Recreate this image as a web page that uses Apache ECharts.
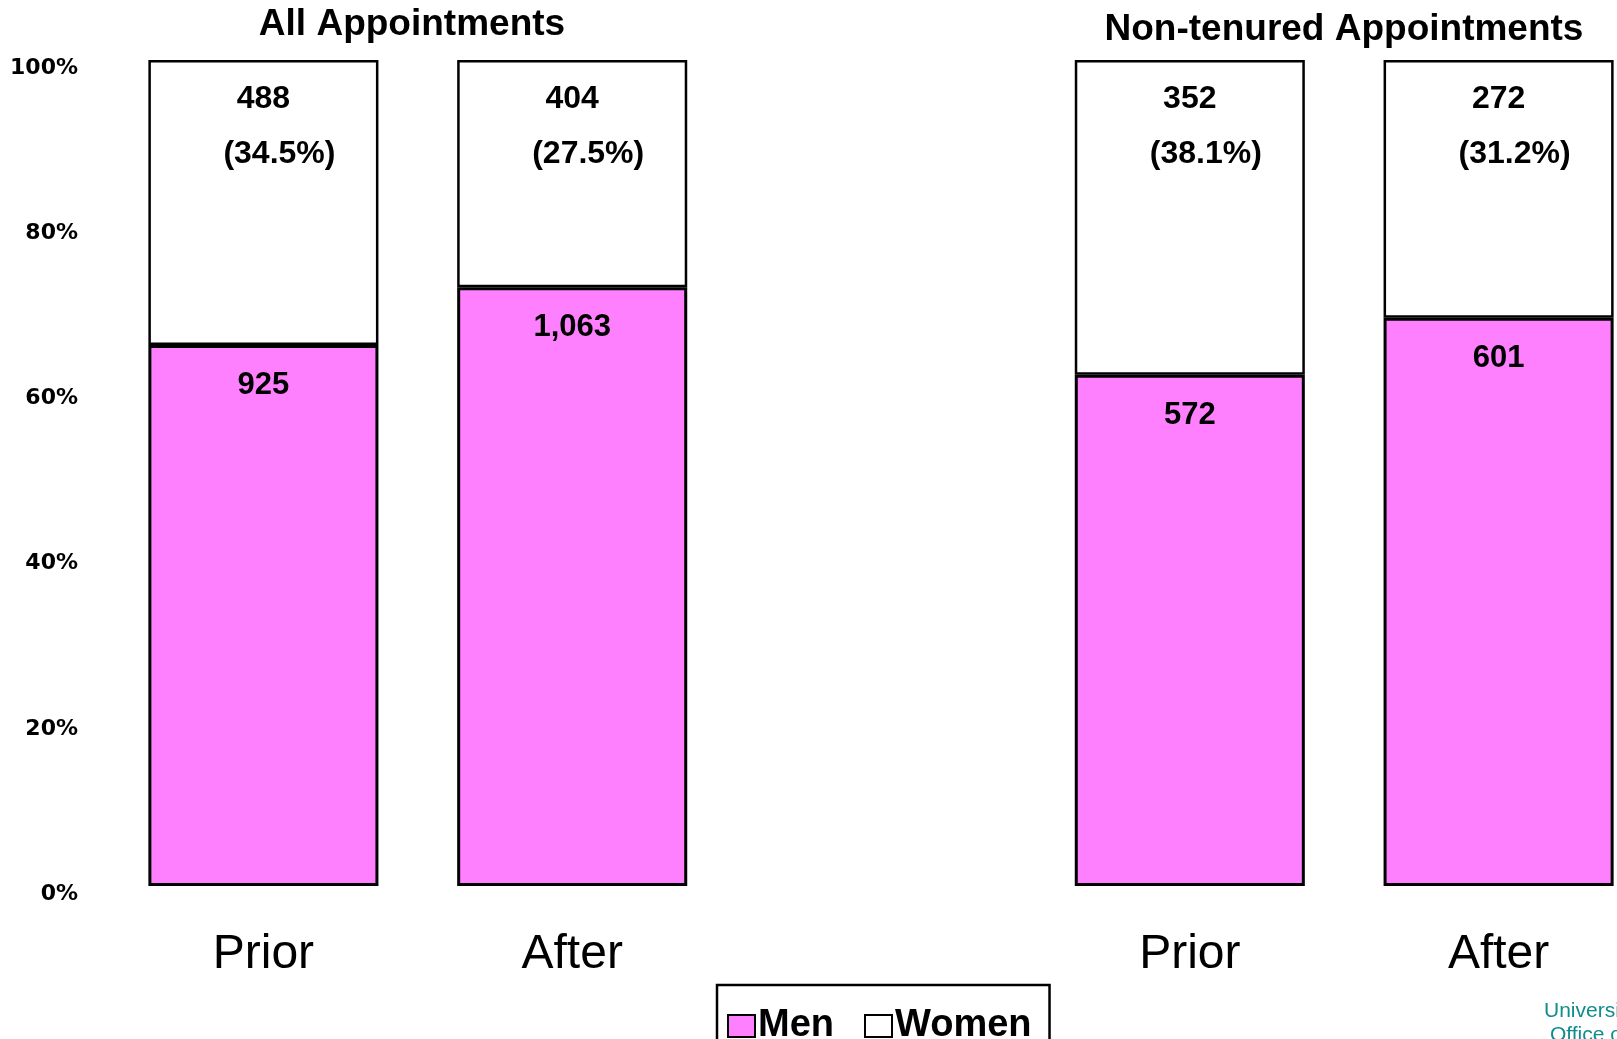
<!DOCTYPE html>
<html><head><meta charset="utf-8">
<script src="https://cdn.jsdelivr.net/npm/echarts@6/dist/echarts.min.js"></script>
<style>html,body{margin:0;padding:0;background:#fff;overflow:hidden}#c{width:1617px;height:1039px}</style>
</head><body><div id="c"></div>
<script>
// ---- data ----
const categories = ['Prior', 'After', '', 'Prior', 'After'];
const menShare = [65.5, 72.5, null, 61.9, 68.8];
const womenShare = [34.5, 27.5, null, 38.1, 31.2];
const menCounts = ['925', '1,063', null, '572', '601'];
const womenCounts = ['488', '404', null, '352', '272'];
const womenPctLabels = ['34.5%', '27.5%', null, '38.1%', '31.2%'];
const yTickStep = 20;
const yMax = 100;
const panelTitles = ['All Appointments', 'Non-tenured Appointments'];
const legendNames = ['Men', 'Women'];
const footerLines = ['University', 'Office of'];

const chart = echarts.init(document.getElementById('c'), null, {renderer: 'canvas'});
const BOLD = 'Liberation Sans';

chart.setOption({
  animation: false,
  backgroundColor: '#ffffff',
  grid: {left: 109, right: -36, top: 60, bottom: 153, containLabel: false, outerBoundsMode: 'none'},
  xAxis: {
    type: 'category',
    data: categories,
    axisLine: {show: false},
    axisTick: {show: false},
    axisLabel: {
      margin: 45, color: '#000', fontFamily: 'Liberation Sans', fontSize: 48,
      interval: 0
    }
  },
  yAxis: {
    type: 'value', min: 0, max: yMax, interval: yTickStep,
    axisLine: {show: false}, axisTick: {show: false}, splitLine: {show: false},
    axisLabel: {
      margin: 31, color: '#000', fontFamily: 'DejaVu Sans', fontWeight: 'bold', fontSize: 22,
      verticalAlign: 'top', lineHeight: 16,
      formatter: v => v + '%'
    }
  },
  legend: {
    data: legendNames,
    left: 717, top: 985,
    orient: 'horizontal',
    itemWidth: 27, itemHeight: 22, itemGap: 30,
    icon: 'rect',
    padding: [22, 18, 14, 10],
    borderColor: '#000', borderWidth: 2.5,
    itemStyle: {borderColor: '#000', borderWidth: 2},
    textStyle: {color: '#000', fontFamily: BOLD, fontWeight: 'bold', fontSize: 38, padding: [0, 0, 0, -2]}
  },
  series: [
    {
      name: legendNames[0], type: 'bar', stack: 'total', barWidth: '74.5%',
      data: menShare,
      itemStyle: {color: '#ff80ff', borderColor: '#000', borderWidth: 3},
      label: {
        show: true, position: 'insideTop', distance: 25,
        color: '#000', fontFamily: BOLD, fontWeight: 'bold', fontSize: 31,
        formatter: p => menCounts[p.dataIndex] || ''
      }
    },
    {
      name: legendNames[1], type: 'bar', stack: 'total', barWidth: '74.5%',
      data: womenShare,
      itemStyle: {color: '#ffffff', borderColor: '#000', borderWidth: 2.5},
      label: {
        show: true, position: 'insideTop', distance: 12,
        color: '#000', fontFamily: BOLD, fontWeight: 'bold', fontSize: 32,
        formatter: p => womenCounts[p.dataIndex]
          ? '{n|' + womenCounts[p.dataIndex] + '}\n{p|(' + womenPctLabels[p.dataIndex] + ')}' : '',
        rich: {
          n: {fontFamily: BOLD, fontWeight: 'bold', fontSize: 32, lineHeight: 55, color: '#000'},
          p: {fontFamily: BOLD, fontWeight: 'bold', fontSize: 32, lineHeight: 55, color: '#000', padding: [0, 0, 0, 32]}
        }
      }
    }
  ],
  graphic: [
    {type: 'text', x: 412, y: 25,
     style: {text: panelTitles[0], fill: '#000', font: 'bold 37px "Liberation Sans"', textAlign: 'center', textVerticalAlign: 'middle'}},
    {type: 'text', x: 1344, y: 30,
     style: {text: panelTitles[1], fill: '#000', font: 'bold 37px "Liberation Sans"', textAlign: 'center', textVerticalAlign: 'middle'}},
    {type: 'text', left: 1544, top: 1001,
     style: {text: footerLines[0], fill: '#108c8c', font: '21px "Liberation Sans"'}},
    {type: 'text', left: 1550, top: 1025,
     style: {text: footerLines[1], fill: '#108c8c', font: '21px "Liberation Sans"'}}
  ]
});
</script></body></html>
